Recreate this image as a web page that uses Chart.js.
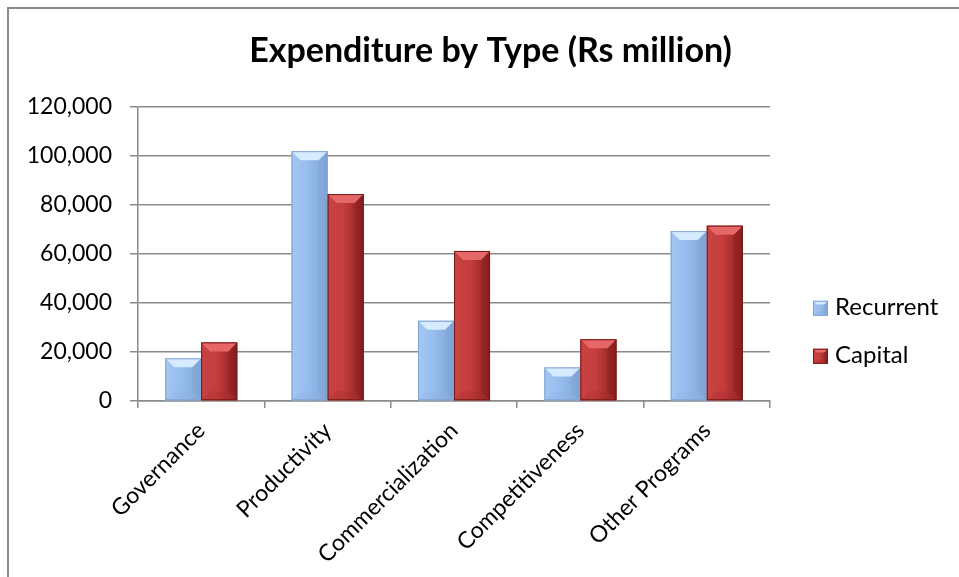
<!DOCTYPE html>
<html>
<head>
<meta charset="utf-8">
<script src="https://cdn.jsdelivr.net/npm/chart.js@4"></script>
<style>
  html, body { margin:0; padding:0; background:#fff; overflow:hidden; }
  #wrap { position:relative; width:959px; height:577px; }
  #frame { position:absolute; left:7px; top:7px; width:2000px; height:2000px;
           border-left:2px solid #8a8a8a; border-top:2px solid #8a8a8a; pointer-events:none; }
  canvas { position:absolute; left:0; top:0; }
</style>
</head>
<body>
<div id="wrap">
  <canvas id="c" width="959" height="577"></canvas>
  <div id="frame"></div>
</div>
<script>
const categories = ['Governance', 'Productivity', 'Commercialization', 'Competitiveness', 'Other Programs'];
const recurrent = [17400, 101900, 32700, 13700, 69300];
const capital = [23900, 84400, 61200, 25200, 71500];
const seriesNames = ['Recurrent', 'Capital'];
const yTicksMax = 120000;
const yTickStep = 20000;

const FONT = 'Lato, "Open Sans", "Liberation Sans", sans-serif';

const palettes = [
  { base:'#95bdee', top:'#d6ebff', left:'#a3c6f2', right:'#7fa3d3', bottom:'#8fb3e4', edge:'#84a4d2' },
  { base:'#c53d3d', top:'#e66767', left:'#c94343', right:'#871e1e', bottom:'#a92e2e', edge:'#741919' }
];

function bevelBox(ctx, l, t, r, b, pal, bev) {
  const w = r - l, h = b - t;
  const s = Math.max(0, Math.min(bev, w / 4, h / 2));
  const poly = (pts, col) => {
    ctx.beginPath(); ctx.moveTo(pts[0][0], pts[0][1]);
    for (let i = 1; i < pts.length; i++) ctx.lineTo(pts[i][0], pts[i][1]);
    ctx.closePath(); ctx.fillStyle = col; ctx.fill();
  };
  const g = ctx.createLinearGradient(l, 0, r, 0);
  g.addColorStop(0, pal.left); g.addColorStop(0.45, pal.base); g.addColorStop(1, pal.right);
  ctx.fillStyle = g; ctx.fillRect(l, t, w, h);
  ctx.globalAlpha = 0.35;
  poly([[l,t],[l+s,t+s],[l+s,b-s],[l,b]], pal.left);
  poly([[r,t],[r-s,t+s],[r-s,b-s],[r,b]], pal.right);
  poly([[l,b],[l+s,b-s],[r-s,b-s],[r,b]], pal.bottom);
  ctx.globalAlpha = 1;
  poly([[l,t],[r,t],[r-s,t+s],[l+s,t+s]], pal.top);
  ctx.strokeStyle = pal.edge; ctx.lineWidth = 1;
  ctx.strokeRect(l + 0.5, t + 0.5, w - 1, h - 1);
}

const bevelPlugin = {
  id: 'bevel',
  afterDatasetsDraw(chart) {
    const ctx = chart.ctx;
    ctx.save();
    chart.data.datasets.forEach((ds, di) => {
      const meta = chart.getDatasetMeta(di);
      meta.data.forEach(bar => {
        const l = bar.x - bar.width / 2, r = bar.x + bar.width / 2;
        bevelBox(ctx, l, bar.y, r, bar.base, palettes[di], 9);
      });
    });
    ctx.restore();
  }
};

const sideLegend = {
  id: 'sideLegend',
  afterDraw(chart) {
    const { ctx, chartArea } = chart;
    ctx.save();
    const x0 = chartArea.right + 43;
    chart.data.datasets.forEach((ds, i) => {
      const yc = chartArea.top + 201 + i * 48;
      bevelBox(ctx, x0, yc - 7, x0 + 15, yc + 8, palettes[i], 4);
      ctx.fillStyle = '#000';
      ctx.font = '24px ' + FONT;
      ctx.textAlign = 'left';
      ctx.textBaseline = 'middle';
      ctx.fillText(ds.label, x0 + 22, yc - 1);
    });
    ctx.restore();
  }
};

new Chart(document.getElementById('c'), {
  type: 'bar',
  data: {
    labels: categories,
    datasets: [
      { label: seriesNames[0], data: recurrent, backgroundColor: palettes[0].base, borderWidth: 0 },
      { label: seriesNames[1], data: capital, backgroundColor: palettes[1].base, borderWidth: 0 }
    ]
  },
  options: {
    responsive: false,
    animation: false,
    devicePixelRatio: 1,
    layout: { padding: { top: 8, left: 22, right: 0, bottom: 0 } },
    datasets: { bar: { categoryPercentage: 0.57, barPercentage: 1.0 } },
    plugins: {
      legend: { display: false },
      tooltip: { enabled: false },
      title: {
        display: true,
        text: 'Expenditure by Type (Rs million)',
        color: '#000',
        font: { family: FONT, size: 34, weight: 'bold' },
        padding: { top: 23, bottom: 35 }
      }
    },
    scales: {
      x: {
        grid: { display: true, drawOnChartArea: false, offset: true, tickLength: 7, color: '#8a8a8a', lineWidth: 1.5 },
        border: { display: true, color: '#8a8a8a', width: 1.5 },
        ticks: { color: '#000', font: { family: FONT, size: 23 }, minRotation: 45, maxRotation: 45, padding: 9, autoSkip: false },
        afterFit(scale) { scale.height = 176; }
      },
      y: {
        min: 0, max: yTicksMax,
        grid: { color: '#8a8a8a', lineWidth: 1.5, tickLength: 8 },
        border: { display: true, color: '#8a8a8a', width: 1.5 },
        ticks: {
          stepSize: yTickStep, color: '#000', padding: 18,
          font: { family: FONT, size: 23 },
          callback: v => v.toLocaleString('en-US')
        },
        afterFit(scale) { scale.width = 116; }
      },
      yR: {
        type: 'linear', position: 'right', display: true,
        grid: { display: false }, border: { display: false },
        ticks: { display: false },
        afterFit(scale) { scale.width = 189; }
      }
    }
  },
  plugins: [bevelPlugin, sideLegend]
});
</script>
</body>
</html>
